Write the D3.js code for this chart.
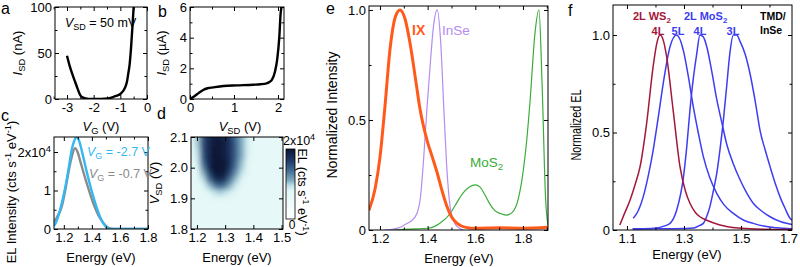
<!DOCTYPE html>
<html>
<head>
<meta charset="utf-8">
<script src="https://cdn.jsdelivr.net/npm/d3@7"></script>
<style>
  body { margin: 0; background: #fff; }
  svg { display: block; }
</style>
</head>
<body>
<div id="chart"></div>
<script>
// ---- data ----

// a: I_SD vs V_G at V_SD = 50 mV
const aVg  = [-3.0, -2.9, -2.8, -2.7, -2.6, -2.5, -2.4, -2.3, -2.2, -2.0, -1.8, -1.6, -1.4, -1.3, -1.2, -1.1, -1.0, -0.9, -0.8, -0.75, -0.7, -0.65, -0.6, -0.55, -0.5];
const aIsd = [47, 36, 27, 19, 11, 4, 1.5, 0.5, 0.1, 0, 0, 0.3, 1, 1.8, 3, 4, 5.5, 8.5, 14, 19, 28, 38, 55, 77, 100];

// b: I_SD vs V_SD
const bVsd = [0, 0.1, 0.2, 0.3, 0.4, 0.53, 0.76, 1.06, 1.44, 1.6, 1.74, 1.8, 1.86, 1.93, 1.98, 2.03, 2.06, 2.08];
const bIsd = [0, 0.18, 0.4, 0.59, 0.7, 0.76, 0.85, 0.89, 0.93, 0.96, 1.02, 1.1, 1.24, 1.78, 2.55, 4.07, 5.6, 6.0];

// c: EL spectra (x10^4) at two gate voltages
const cBlueE = [1.13, 1.15, 1.173, 1.2, 1.22, 1.24, 1.256, 1.275, 1.292, 1.31, 1.327, 1.363, 1.41, 1.458, 1.506, 1.53, 1.6, 1.8];
const cBlue  = [0.08, 0.22, 0.49, 0.9, 1.27, 1.7, 2.05, 2.3, 2.38, 2.28, 2.05, 1.49, 0.84, 0.32, 0.04, 0.0, 0.0, 0.0];
const cGrayE = [1.13, 1.15, 1.185, 1.21, 1.232, 1.255, 1.28, 1.3, 1.315, 1.363, 1.41, 1.458, 1.506, 1.55, 1.8];
const cGray  = [0.18, 0.3, 0.58, 1.0, 1.45, 1.85, 2.1, 1.98, 1.79, 1.19, 0.67, 0.28, 0.06, 0.0, 0.0];

// d: EL map (x10^4), rows = V_SD, columns = energy
const dE = [1.18, 1.20, 1.22, 1.24, 1.26, 1.28, 1.30, 1.32, 1.34, 1.36, 1.38, 1.40, 1.42, 1.44, 1.46, 1.48, 1.50];
const dV = [1.80, 1.82, 1.84, 1.86, 1.88, 1.90, 1.92, 1.94, 1.96, 1.98, 2.00, 2.02, 2.04, 2.06, 2.08, 2.10];
const dZ = [
  [.70,.70,.70,.70,.70,.70,.70,.70,.70,.70,.70,.70,.70,.70,.70,.70,.70],
  [.70,.70,.70,.70,.70,.70,.70,.70,.70,.70,.70,.70,.70,.70,.70,.70,.70],
  [.70,.70,.70,.70,.70,.70,.70,.70,.70,.70,.70,.70,.70,.70,.70,.70,.70],
  [.70,.70,.70,.70,.70,.70,.70,.70,.70,.70,.70,.70,.70,.70,.70,.70,.70],
  [.70,.70,.70,.70,.70,.70,.70,.70,.70,.70,.70,.70,.70,.70,.70,.70,.70],
  [.70,.70,.70,.72,.75,.78,.76,.73,.71,.70,.70,.70,.70,.70,.70,.70,.70],
  [.70,.70,.72,.80,.92,1.00,.95,.85,.76,.71,.70,.70,.70,.70,.70,.70,.70],
  [.70,.70,.78,1.00,1.25,1.40,1.30,1.05,.85,.74,.70,.70,.70,.70,.70,.70,.70],
  [.70,.72,.90,1.30,1.65,1.80,1.65,1.30,1.00,.80,.72,.70,.70,.70,.70,.70,.70],
  [.70,.75,1.05,1.55,1.90,2.00,1.90,1.50,1.15,.90,.74,.70,.70,.70,.70,.70,.70],
  [.70,.80,1.25,1.75,2.00,2.05,2.00,1.65,1.30,1.00,.78,.70,.70,.70,.70,.70,.70],
  [.71,.85,1.40,1.80,2.00,2.05,2.00,1.70,1.35,1.05,.80,.71,.70,.70,.70,.70,.70],
  [.72,.90,1.50,1.85,2.00,2.00,1.92,1.70,1.40,1.10,.85,.72,.70,.70,.70,.70,.70],
  [.72,.95,1.55,1.85,2.00,2.00,1.92,1.70,1.40,1.10,.85,.72,.70,.70,.70,.70,.70],
  [.72,1.00,1.55,1.85,1.95,2.00,1.92,1.70,1.40,1.10,.85,.72,.70,.70,.70,.70,.70],
  [.72,1.00,1.55,1.80,1.92,1.92,1.85,1.65,1.35,1.10,.85,.72,.70,.70,.70,.70,.70]
];

// e: normalized spectra
const eIXE   = [1.154, 1.18, 1.2, 1.22, 1.242, 1.265, 1.284, 1.305, 1.326, 1.35, 1.368, 1.397, 1.42, 1.44, 1.46, 1.48, 1.5, 1.524, 1.56, 1.6, 1.7, 1.8, 1.905];
const eIX    = [0.09, 0.19, 0.33, 0.55, 0.82, 0.97, 1.0, 0.96, 0.85, 0.68, 0.55, 0.41, 0.33, 0.26, 0.18, 0.11, 0.06, 0.03, 0.012, 0.008, 0.01, 0.008, 0.012];
const eInSeE = [1.22, 1.26, 1.29, 1.313, 1.33, 1.355, 1.37, 1.383, 1.397, 1.41, 1.425, 1.44, 1.455, 1.468, 1.48, 1.495, 1.51, 1.524, 1.55];
const eInSe  = [0.0, 0.005, 0.015, 0.03, 0.04, 0.075, 0.15, 0.32, 0.55, 0.74, 0.93, 1.0, 0.85, 0.55, 0.29, 0.1, 0.04, 0.015, 0.0];
const eMoS2E = [1.25, 1.3, 1.35, 1.4, 1.45, 1.495, 1.52, 1.55, 1.575, 1.6, 1.62, 1.64, 1.66, 1.68, 1.705, 1.73, 1.755, 1.78, 1.8, 1.815, 1.83, 1.85, 1.867, 1.88, 1.895, 1.905];
const eMoS2  = [0.0, 0.003, 0.005, 0.008, 0.03, 0.075, 0.12, 0.17, 0.195, 0.205, 0.195, 0.16, 0.12, 0.09, 0.075, 0.068, 0.08, 0.14, 0.26, 0.4, 0.59, 0.89, 1.0, 0.67, 0.14, 0.02];

// f: normalized EL of TMD/InSe devices
const fWS2E = [1.075, 1.09, 1.111, 1.13, 1.146, 1.169, 1.192, 1.205, 1.216, 1.228, 1.239, 1.262, 1.286, 1.305, 1.321, 1.34, 1.356, 1.38, 1.426, 1.49, 1.55, 1.679];
const fWS2  = [0.026, 0.08, 0.154, 0.24, 0.325, 0.547, 0.84, 0.96, 1.0, 0.97, 0.89, 0.615, 0.325, 0.2, 0.137, 0.09, 0.068, 0.05, 0.026, 0.01, 0.005, 0.003];
const fMo5E = [1.122, 1.14, 1.157, 1.175, 1.192, 1.21, 1.227, 1.251, 1.274, 1.298, 1.315, 1.333, 1.35, 1.368, 1.39, 1.415, 1.44, 1.473, 1.51, 1.543, 1.58, 1.625, 1.679];
const fMo5  = [0.06, 0.1, 0.17, 0.28, 0.41, 0.58, 0.75, 0.94, 1.0, 0.92, 0.79, 0.63, 0.5, 0.376, 0.27, 0.188, 0.13, 0.085, 0.05, 0.034, 0.02, 0.012, 0.006];
const fMo4E = [1.12, 1.15, 1.204, 1.23, 1.251, 1.274, 1.298, 1.31, 1.321, 1.333, 1.345, 1.356, 1.368, 1.38, 1.398, 1.415, 1.433, 1.45, 1.473, 1.496, 1.52, 1.543, 1.57, 1.602, 1.64, 1.679];
const fMo4  = [0.005, 0.006, 0.01, 0.02, 0.034, 0.1, 0.27, 0.43, 0.615, 0.78, 0.906, 1.0, 0.99, 0.94, 0.81, 0.67, 0.55, 0.44, 0.34, 0.26, 0.19, 0.137, 0.1, 0.068, 0.042, 0.028];
const fMo3E = [1.12, 1.2, 1.3, 1.333, 1.35, 1.368, 1.38, 1.391, 1.403, 1.415, 1.427, 1.438, 1.45, 1.461, 1.473, 1.485, 1.496, 1.515, 1.532, 1.55, 1.567, 1.585, 1.602, 1.62, 1.637, 1.655, 1.672, 1.679];
const fMo3  = [0.005, 0.006, 0.008, 0.01, 0.02, 0.034, 0.07, 0.12, 0.2, 0.29, 0.42, 0.56, 0.74, 0.906, 1.0, 1.0, 0.97, 0.9, 0.8, 0.66, 0.51, 0.41, 0.325, 0.24, 0.17, 0.11, 0.06, 0.05];

// ---- drawing ----

const FONT = '"Liberation Sans", Arial, Helvetica, sans-serif';
const W = 800, H = 267;
const TICK = 13;

const svg = d3.select("#chart").append("svg")
  .attr("width", W).attr("height", H)
  .attr("font-family", FONT);
const defs = svg.append("defs");

// text with italic / sub / sup pieces
function rich(sel, parts) {
  let shift = 0;
  parts.forEach(([s, k]) => {
    const t = sel.append("tspan").text(s);
    const target = k === "sub" ? 3 : k === "sup" ? -5 : 0;
    if (k === "i") t.attr("font-style", "italic");
    if (k === "sub" || k === "sup") t.attr("font-size", "0.72em");
    if (target !== shift) { t.attr("dy", target - shift); shift = target; }
  });
  return sel;
}

function label(x, y, parts, o = {}) {
  const t = svg.append("text")
    .attr("x", x).attr("y", y)
    .attr("font-size", o.size || 13)
    .attr("fill", o.color || "#000")
    .attr("font-weight", o.bold ? "bold" : null)
    .attr("text-anchor", o.anchor || "start");
  return rich(t, parts);
}

function yLabel(x, y, parts, o = {}) {
  const t = svg.append("text")
    .attr("transform", `translate(${x},${y}) rotate(${o.rot || -90})`)
    .attr("text-anchor", "middle")
    .attr("font-size", o.size || 13);
  if (o.len) t.attr("textLength", o.len).attr("lengthAdjust", "spacingAndGlyphs");
  return rich(t, parts);
}

function makePanel(p) {
  const x = d3.scaleLinear().domain(p.xd).range([p.x0, p.x1]);
  const y = d3.scaleLinear().domain(p.yd).range([p.y1, p.y0]);
  const g = svg.append("g");

  defs.append("clipPath").attr("id", "clip-" + p.id)
    .append("rect")
    .attr("x", p.x0).attr("y", p.y0)
    .attr("width", p.x1 - p.x0).attr("height", p.y1 - p.y0);
  const plot = g.append("g").attr("clip-path", `url(#clip-${p.id})`);

  const put = (axis, tx, ty) => g.append("g")
    .attr("transform", `translate(${tx},${ty})`)
    .call(axis)
    .call(s => s.select(".domain").remove())
    .attr("font-family", FONT).attr("font-size", TICK);

  const fx = p.xf || (d => String(d));
  const fy = p.yf || (d => String(d));
  p.xAxis = put(d3.axisBottom(x).tickValues(p.xt).tickSize(-4).tickPadding(4).tickFormat(fx), 0, p.y1);
  put(d3.axisBottom(x).tickValues(p.xm).tickSize(-2.5).tickFormat(""), 0, p.y1);
  put(d3.axisTop(x).tickValues(p.xt).tickSize(-4).tickFormat(""), 0, p.y0);
  put(d3.axisTop(x).tickValues(p.xm).tickSize(-2.5).tickFormat(""), 0, p.y0);
  p.yAxis = put(d3.axisLeft(y).tickValues(p.yt).tickSize(-4).tickPadding(3).tickFormat(fy), p.x0, 0);
  put(d3.axisLeft(y).tickValues(p.ym).tickSize(-2.5).tickFormat(""), p.x0, 0);
  put(d3.axisRight(y).tickValues(p.yt).tickSize(-4).tickFormat(""), p.x1, 0);
  put(d3.axisRight(y).tickValues(p.ym).tickSize(-2.5).tickFormat(""), p.x1, 0);

  g.append("rect")
    .attr("x", p.x0).attr("y", p.y0)
    .attr("width", p.x1 - p.x0).attr("height", p.y1 - p.y0)
    .attr("fill", "none").attr("stroke", "#000").attr("stroke-width", 1);

  return { x, y, g, plot, p };
}

function curve(P, xs, ys, color, w) {
  P.plot.append("path")
    .datum(d3.zip(xs, ys))
    .attr("d", d3.line().x(d => P.x(d[0])).y(d => P.y(d[1])).curve(d3.curveMonotoneX))
    .attr("fill", "none")
    .attr("stroke", color)
    .attr("stroke-width", w)
    .attr("stroke-linejoin", "round");
}

const f1 = d3.format(".1f");

// panel a
const A = makePanel({ id: "a", x0: 55, x1: 147, y0: 7, y1: 99,
  xd: [-3.45, 0], yd: [0, 100],
  xt: [-3, -2, -1, 0], xm: [-3.5, -2.5, -1.5, -0.5],
  yt: [0, 50, 100], ym: [25, 75] });
curve(A, aVg, aIsd, "#000", 2.4);
label(65, 27, [["V", "i"], ["SD", "sub"], [" = 50 mV", ""]], { size: 12.5 });
label(1, 14, [["a", ""]], { size: 16 });
yLabel(22, 53, [["I", "i"], ["SD", "sub"], [" (nA)", ""]]);
label(101, 131, [["V", "i"], ["G", "sub"], [" (V)", ""]], { anchor: "middle" });

// panel b
const B = makePanel({ id: "b", x0: 190, x1: 284, y0: 7, y1: 99,
  xd: [0, 2.136], yd: [0, 6],
  xt: [0, 1, 2], xm: [0.5, 1.5],
  yt: [0, 2, 4, 6], ym: [1, 3, 5] });
curve(B, bVsd, bIsd, "#000", 2.4);
label(158, 17, [["b", ""]], { size: 16 });
yLabel(166, 53, [["I", "i"], ["SD", "sub"], [" (\u00b5A)", ""]]);
label(240, 131, [["V", "i"], ["SD", "sub"], [" (V)", ""]], { anchor: "middle" });

// panel c
const C = makePanel({ id: "c", x0: 54, x1: 148, y0: 137, y1: 229,
  xd: [1.13, 1.80], yd: [0, 2.39],
  xt: [1.2, 1.4, 1.6, 1.8], xm: [1.3, 1.5, 1.7],
  yt: [0, 1, 2], ym: [0.5, 1.5],
  xf: f1, yf: d => d === 2 ? "" : String(d) });
C.p.yAxis.selectAll(".tick text").filter(d => d === 2)
  .call(t => rich(t, [["2x10", ""], ["4", "sup"]]));
curve(C, cGrayE, cGray, "#8a8a8a", 2.4);
curve(C, cBlueE, cBlue, "#35b7f2", 2.4);
label(87, 156, [["V", "i"], ["G", "sub"], [" = -2.7 V", ""]], { size: 12.5, color: "#35b7f2" });
label(89, 178, [["V", "i"], ["G", "sub"], [" = -0.7 V", ""]], { size: 12.5, color: "#8a8a8a" });
label(1, 121, [["c", ""]], { size: 16 });
yLabel(16, 192, [["EL Intensity (cts s", ""], ["-1", "sup"], [" eV", ""], ["-1", "sup"], [")", ""]]);
label(101, 262, [["Energy (eV)", ""]], { anchor: "middle" });

// panel d: heat map
const elColor = d3.scaleLinear()
  .domain([0, 0.8, 0.95, 1.1, 1.4, 1.7, 2.0])
  .range(["#ffffff", "#e2f7f7", "#bfe2e8", "#80adc2", "#3f6892", "#1c3462", "#0b1634"])
  .clamp(true);

const D = makePanel({ id: "d", x0: 191, x1: 283, y0: 137, y1: 229,
  xd: [1.179, 1.505], yd: [1.8, 2.1],
  xt: [1.2, 1.3, 1.4, 1.5], xm: [],
  yt: [1.8, 1.9, 2.0, 2.1], ym: [],
  xf: f1, yf: f1 });

defs.append("filter").attr("id", "soft")
  .attr("filterUnits", "userSpaceOnUse")
  .attr("x", 170).attr("y", 120).attr("width", 135).attr("height", 130)
  .append("feGaussianBlur").attr("stdDeviation", 2.6);

const cells = [];
dV.forEach((v, i) => dE.forEach((e, j) => cells.push({ e, v, z: dZ[i][j], i, j })));
const hE = 0.01, hV = 0.01;
D.plot.insert("g", ":first-child")
  .attr("filter", "url(#soft)")
  .selectAll("rect").data(cells).join("rect")
  .attr("x", d => D.x(d.e - hE) - (d.j === 0 ? 10 : 0))
  .attr("width", d => D.x(d.e + hE) - D.x(d.e - hE) + (d.j === 0 || d.j === dE.length - 1 ? 10 : 0) + 0.5)
  .attr("y", d => D.y(d.v + hV) - (d.i === dV.length - 1 ? 10 : 0))
  .attr("height", d => D.y(d.v - hV) - D.y(d.v + hV) + (d.i === 0 || d.i === dV.length - 1 ? 10 : 0) + 0.5)
  .attr("fill", d => elColor(d.z));

label(157, 119, [["d", ""]], { size: 16 });
yLabel(159, 183, [["V", "i"], ["SD", "sub"], [" (V)", ""]]);
label(237, 262, [["Energy (eV)", ""]], { anchor: "middle" });

// colour bar
const cb = d3.scaleLinear().domain([0, 2]).range([219, 149]);
const grad = defs.append("linearGradient").attr("id", "cbar")
  .attr("x1", 0).attr("y1", 1).attr("x2", 0).attr("y2", 0);
d3.range(0, 1.0001, 0.025).forEach(t =>
  grad.append("stop").attr("offset", t).attr("stop-color", elColor(t * 2)));
svg.append("rect")
  .attr("x", 286).attr("y", cb(2))
  .attr("width", 9).attr("height", cb(0) - cb(2))
  .attr("fill", "url(#cbar)")
  .attr("stroke", "#000").attr("stroke-width", 0.8);
label(283, cb(2) - 4, [["2x10", ""], ["4", "sup"]], { size: 12.5 });
label(292, cb(0) + 9.5, [["0", ""]], { size: 12, anchor: "middle" });
yLabel(298, 192, [["EL (cts s", ""], ["-1", "sup"], [" eV", ""], ["-1", "sup"], [")", ""]], { rot: 90, size: 12.5 });

// panel e
const E = makePanel({ id: "e", x0: 369, x1: 548, y0: 6, y1: 230,
  xd: [1.154, 1.905], yd: [0, 1.018],
  xt: [1.2, 1.4, 1.6, 1.8], xm: [1.3, 1.5, 1.7, 1.9],
  yt: [0, 0.5, 1.0], ym: [0.25, 0.75],
  xf: f1, yf: d => d === 0 ? "0" : f1(d) });
curve(E, eMoS2E, eMoS2, "#3aac3a", 1.2);
curve(E, eInSeE, eInSe, "#b58cf0", 1.2);
curve(E, eIXE, eIX, "#ff5a1a", 3);
label(412, 35, [["IX", ""]], { size: 14, bold: true, color: "#ff5a1a" });
label(442, 35, [["InSe", ""]], { size: 13.5, color: "#b58cf0" });
label(470, 167, [["MoS", ""], ["2", "sub"]], { size: 13.5, color: "#3aac3a" });
label(326, 14, [["e", ""]], { size: 16 });
yLabel(337, 115, [["Normalized Intensity", ""]], { size: 15, len: 127 });
label(459, 263, [["Energy (eV)", ""]], { anchor: "middle" });

// panel f
const F = makePanel({ id: "f", x0: 613, x1: 792, y0: 5, y1: 230,
  xd: [1.051, 1.679], yd: [0, 1.154],
  xt: [1.1, 1.3, 1.5], xm: [1.2, 1.4, 1.6],
  yt: [0, 0.5, 1.0], ym: [0.25, 0.75],
  xf: f1, yf: d => d === 0 ? "0" : f1(d) });
const fRed = "#a3183a", fBlue = "#3d3df2";
curve(F, fMo3E, fMo3, fBlue, 1.5);
curve(F, fMo4E, fMo4, fBlue, 1.5);
curve(F, fMo5E, fMo5, fBlue, 1.5);
curve(F, fWS2E, fWS2, fRed, 1.5);
F.g.append("text")
  .attr("x", Math.min(F.x(1.7), F.p.x1 - 3)).attr("y", F.p.y1 + 4).attr("dy", "0.71em")
  .attr("text-anchor", "middle").attr("font-size", TICK).text("1.7");
label(633, 20, [["2L WS", ""], ["2", "sub"]], { size: 11, bold: true, color: fRed });
label(658, 35, [["4L", ""]], { size: 11, bold: true, color: fRed, anchor: "middle" });
label(684, 20, [["2L MoS", ""], ["2", "sub"]], { size: 11, bold: true, color: fBlue });
label(678, 35, [["5L", ""]], { size: 11, bold: true, color: fBlue, anchor: "middle" });
label(700, 35, [["4L", ""]], { size: 11, bold: true, color: fBlue, anchor: "middle" });
label(733, 35, [["3L", ""]], { size: 11, bold: true, color: fBlue, anchor: "middle" });
label(760, 20, [["TMD/", ""]], { size: 10.5, bold: true });
label(760, 34, [["InSe", ""]], { size: 10.5, bold: true });
label(568, 16, [["f", ""]], { size: 16 });
yLabel(581, 125, [["Normalized EL", ""]], { size: 15, len: 71 });
label(687, 259, [["Energy (eV)", ""]], { anchor: "middle" });
</script>
</body>
</html>
